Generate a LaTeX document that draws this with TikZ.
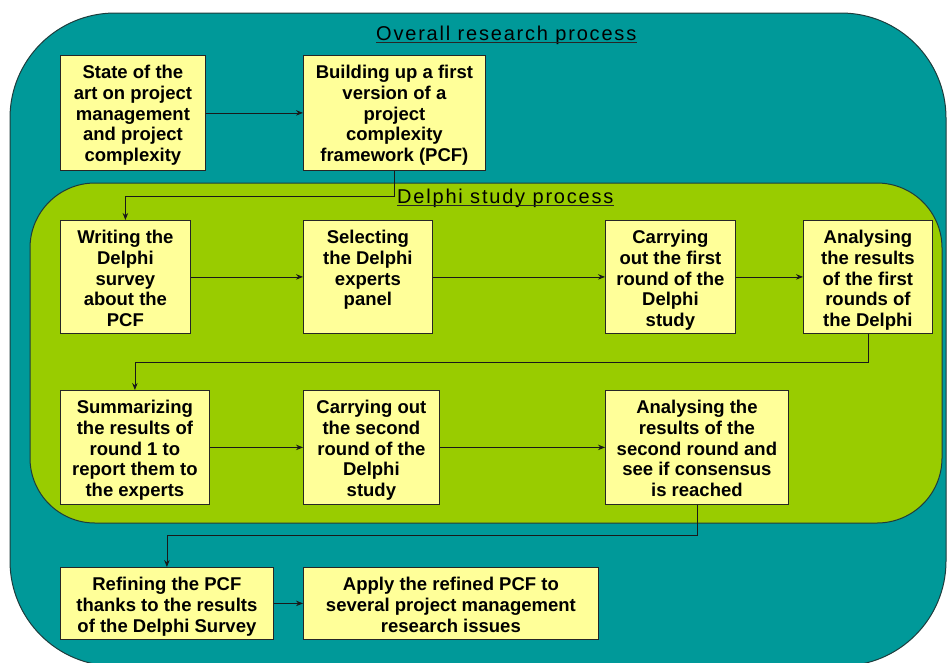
\documentclass[tikz,border=0pt]{standalone}
\usepackage{fontspec}
\setmainfont{Liberation Sans}
\newfontfamily\titlefont[LetterSpace=9]{Liberation Sans}
\usetikzlibrary{arrows.meta}
\definecolor{outerteal}{HTML}{009999}
\definecolor{innergreen}{HTML}{99CC00}
\definecolor{boxyellow}{HTML}{FFFF99}
\definecolor{edgedark}{HTML}{1E3C3C}
\newcommand\bt[3]{\parbox[c][#2pt][t]{#1pt}{\centering\rule{0pt}{23pt}#3}}
\tikzset{
  x=1pt, y={(0pt,-1pt)},
  box/.style={draw=black!85, line width=0.8pt, fill=boxyellow, inner sep=0pt, anchor=north west,
    font=\fontsize{18.5pt}{20.8pt}\selectfont\bfseries},
  arr/.style={draw=black!90, line width=0.8pt, -{Stealth[length=7pt,width=5.5pt]}},
  ptitle/.style={inner sep=0pt, anchor=base west, font=\fontsize{20pt}{24pt}\titlefont},
  uline/.style={draw=black!85, line width=0.8pt}
}
\begin{document}
\begin{tikzpicture}
\useasboundingbox (0,0) rectangle (947,662);
% outer region
\path[fill=outerteal, draw=edgedark, line width=1pt, rounded corners=105pt] (10,13) rectangle (946,666);
% inner region
\path[fill=innergreen, draw=edgedark, line width=1pt, rounded corners=65pt] (30,183) rectangle (942,523);
% titles
\node[ptitle] (t1) at (376,40) {Overall research process};
\draw[uline] ([yshift=-2.5pt]t1.base west) -- ([yshift=-2.5pt]t1.base east);
\node[ptitle] (t2) at (397,203) {Delphi study process};
\draw[uline] ([yshift=-2.5pt]t2.base west) -- ([yshift=-2.5pt]t2.base east);
% boxes
\node[box] (b1) at (60,55) {\bt{145}{115}{State of the\\art on project\\management\\and project\\complexity}};
\node[box] (b2) at (303,55) {\bt{182}{115}{Building up a first\\version of a\\project\\complexity\\framework (PCF)}};
\node[box] (b3) at (60,220) {\bt{130}{113}{Writing the\\Delphi\\survey\\about the\\PCF}};
\node[box] (b4) at (303,220) {\bt{129}{113}{Selecting\\the Delphi\\experts\\panel}};
\node[box] (b5) at (605,220) {\bt{130}{113}{Carrying\\out the first\\round of the\\Delphi\\study}};
\node[box] (b6) at (803,220) {\bt{129}{113}{Analysing\\the results\\of the first\\rounds of\\the Delphi}};
\node[box] (b7) at (60,390) {\bt{149}{114}{Summarizing\\the results of\\round 1 to\\report them to\\the experts}};
\node[box] (b8) at (303,390) {\bt{136}{114}{Carrying out\\the second\\round of the\\Delphi\\study}};
\node[box] (b9) at (605,390) {\bt{183}{114}{Analysing the\\results of the\\second round and\\see if consensus\\is reached}};
\node[box] (b10) at (60,567) {\bt{213}{72}{Refining the PCF\\thanks to the results\\of the Delphi Survey}};
\node[box] (b11) at (303,567) {\bt{295}{72}{Apply the refined PCF to\\several project management\\research issues}};
% connectors
\draw[arr] (b1) -- (b2);
\draw[arr] (b2.south) -- ++(0,26) -| (b3.north);
\draw[arr] (b3) -- (b4);
\draw[arr] (b4) -- (b5);
\draw[arr] (b5) -- (b6);
\draw[arr] (b6.south) -- ++(0,29) -| (b7.north);
\draw[arr] (b7) -- (b8);
\draw[arr] (b8) -- (b9);
\draw[arr] (b9.south) -- ++(0,31) -| (b10.north);
\draw[arr] (b10) -- (b11);
\end{tikzpicture}
\end{document}
